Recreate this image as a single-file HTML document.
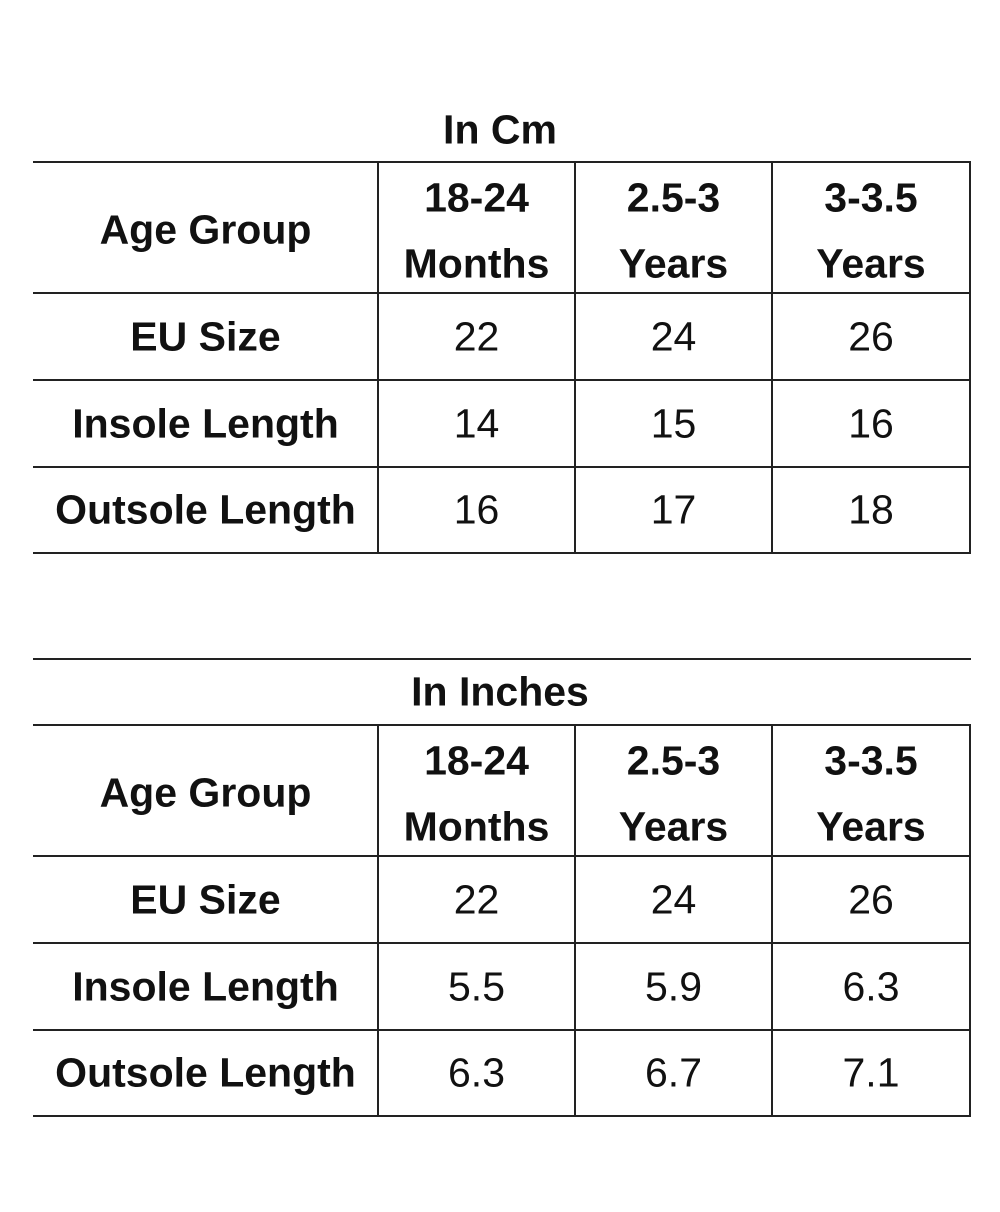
<!DOCTYPE html>
<html><head><meta charset="utf-8"><style>
body{margin:0;width:1000px;height:1212px;background:#fff;position:relative;overflow:hidden;font-family:"Liberation Sans",sans-serif;color:#111}
.h{position:absolute;height:2px;background:#222}
.v{position:absolute;width:2px;background:#222}
.t{position:absolute;text-align:center;white-space:nowrap;line-height:1;transform:translateY(-50%)}
.b{font-weight:bold;font-size:41px}
.n{font-size:41px}
</style></head><body>
<script>
const colX=[33,378,575,772,970];
const rowLabels=["EU Size","Insole Length","Outsole Length"];
const headTop=["18-24","2.5-3","3-3.5"];
const headBot=["Months","Years","Years"];
const cmValues=[["22","24","26"],["14","15","16"],["16","17","18"]];
const inValues=[["22","24","26"],["5.5","5.9","6.3"],["6.3","6.7","7.1"]];
function el(cls,x,y,w,h,txt){const d=document.createElement('div');d.className=cls;d.style.left=x+'px';d.style.top=y+'px';if(w!=null)d.style.width=w+'px';if(h!=null)d.style.height=h+'px';if(txt!=null)d.textContent=txt;document.body.appendChild(d);return d;}
function table(title,titleY,top,values,prefix){
  const t=el('t b',0,titleY,1000,null,title);
  
  
  const rows=[top,top+131,top+218,top+305,top+391];
  rows.forEach((y,i)=>{const l=el('h',colX[0],y-1,colX[4]-colX[0]+1,2);
    
    });
  for(let c=1;c<5;c++){const l=el('v',colX[c]-1,top,2,rows[4]-top+1);
    
    }
  const ag=el('t b',colX[0],top+68,colX[1]-colX[0],null,'Age Group');
  
  
  for(let c=0;c<3;c++){
    const w=colX[c+2]-colX[c+1];
    const a=el('t b',colX[c+1],top+36,w,null,headTop[c]);
    
    
    const b=el('t b',colX[c+1],top+102,w,null,headBot[c]);
    
    
  }
  for(let r=0;r<3;r++){
    const cy=(rows[r+1]+rows[r+2])/2;
    const lab=el('t b',colX[0],cy,colX[1]-colX[0],null,rowLabels[r]);
    
    
    for(let c=0;c<3;c++){
      const v=el('t n',colX[c+1],cy,colX[c+2]-colX[c+1],null,values[r][c]);
      
      
    }
  }
}
table('In Cm',130,162,cmValues,'cm-table');
const sep=el('h',33,658,938,2);


table('In Inches',692,725,inValues,'inch-table');
</script>
</body></html>
